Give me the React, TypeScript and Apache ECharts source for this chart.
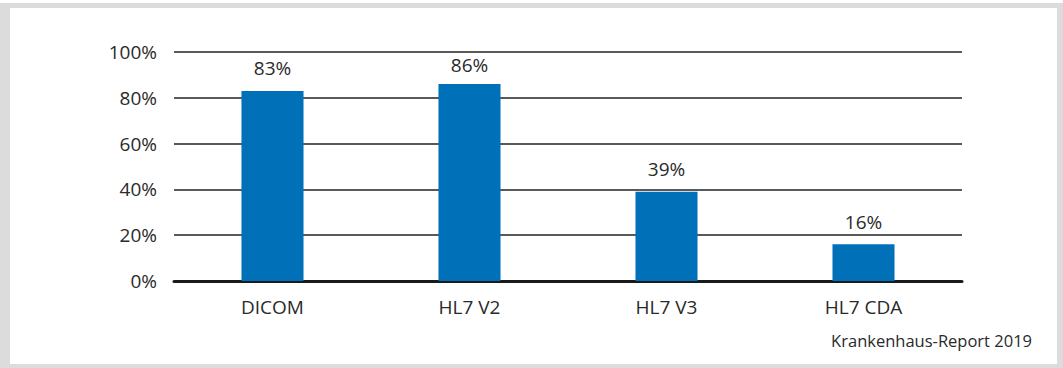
import React, { useEffect, useRef } from "react";
import * as echarts from "echarts";

const categories = ["DICOM", "HL7 V2", "HL7 V3", "HL7 CDA"];
const values = [83, 86, 39, 16];
const yTicks = [0, 20, 40, 60, 80, 100];
const sourceText = "Krankenhaus-Report 2019";

export default function App() {
  const ref = useRef<HTMLDivElement>(null);
  useEffect(() => {
    if (!ref.current) return;
    const chart = echarts.init(ref.current, null, { renderer: "svg" });
    const font = "'Open Sans', 'Noto Sans', sans-serif";
    const barData = values.map((v, i) =>
      i === 1 ? { value: v, label: { distance: 10 } } : { value: v }
    );
    chart.setOption({
      animation: false,
      textStyle: { fontFamily: font },
      graphic: [
        { type: "rect", z: -10, shape: { x: 0, y: 3, width: 1063, height: 365 }, style: { fill: "#dcdcdc" } },
        { type: "rect", z: -9, shape: { x: 10, y: 8, width: 1047, height: 356 }, style: { fill: "#ffffff" } },
        {
          type: "text",
          right: 31,
          top: 332,
          style: { text: sourceText, fontSize: 16.5, fill: "#2a2a2a", fontFamily: font },
        },
      ],
      grid: { left: 174, right: 101, top: 52, bottom: 87 },
      xAxis: {
        type: "category",
        data: categories,
        axisTick: { show: false },
        axisLine: { lineStyle: { color: "#1a1a1a", width: 3 } },
        axisLabel: { color: "#2a2a2a", fontSize: 19, margin: 16, fontFamily: font },
      },
      yAxis: {
        type: "value",
        min: yTicks[0],
        max: yTicks[yTicks.length - 1],
        interval: 20,
        axisLabel: { formatter: "{value}%", color: "#2a2a2a", fontSize: 19, margin: 17, fontFamily: font },
        axisLine: { show: false },
        axisTick: { show: false },
        splitLine: { lineStyle: { color: "#222", width: 1.5 } },
      },
      series: [
        {
          type: "bar",
          data: barData,
          barWidth: "31.5%",
          itemStyle: { color: "#0070b9" },
          label: {
            show: true,
            position: "top",
            distance: 13,
            formatter: "{c}%",
            color: "#2a2a2a",
            fontSize: 19,
            fontFamily: font,
          },
        },
      ],
    });
    return () => chart.dispose();
  }, []);
  return (
    <div
      ref={ref}
      style={{ position: "absolute", left: 0, top: 0, width: 1063, height: 368 }}
    />
  );
}
